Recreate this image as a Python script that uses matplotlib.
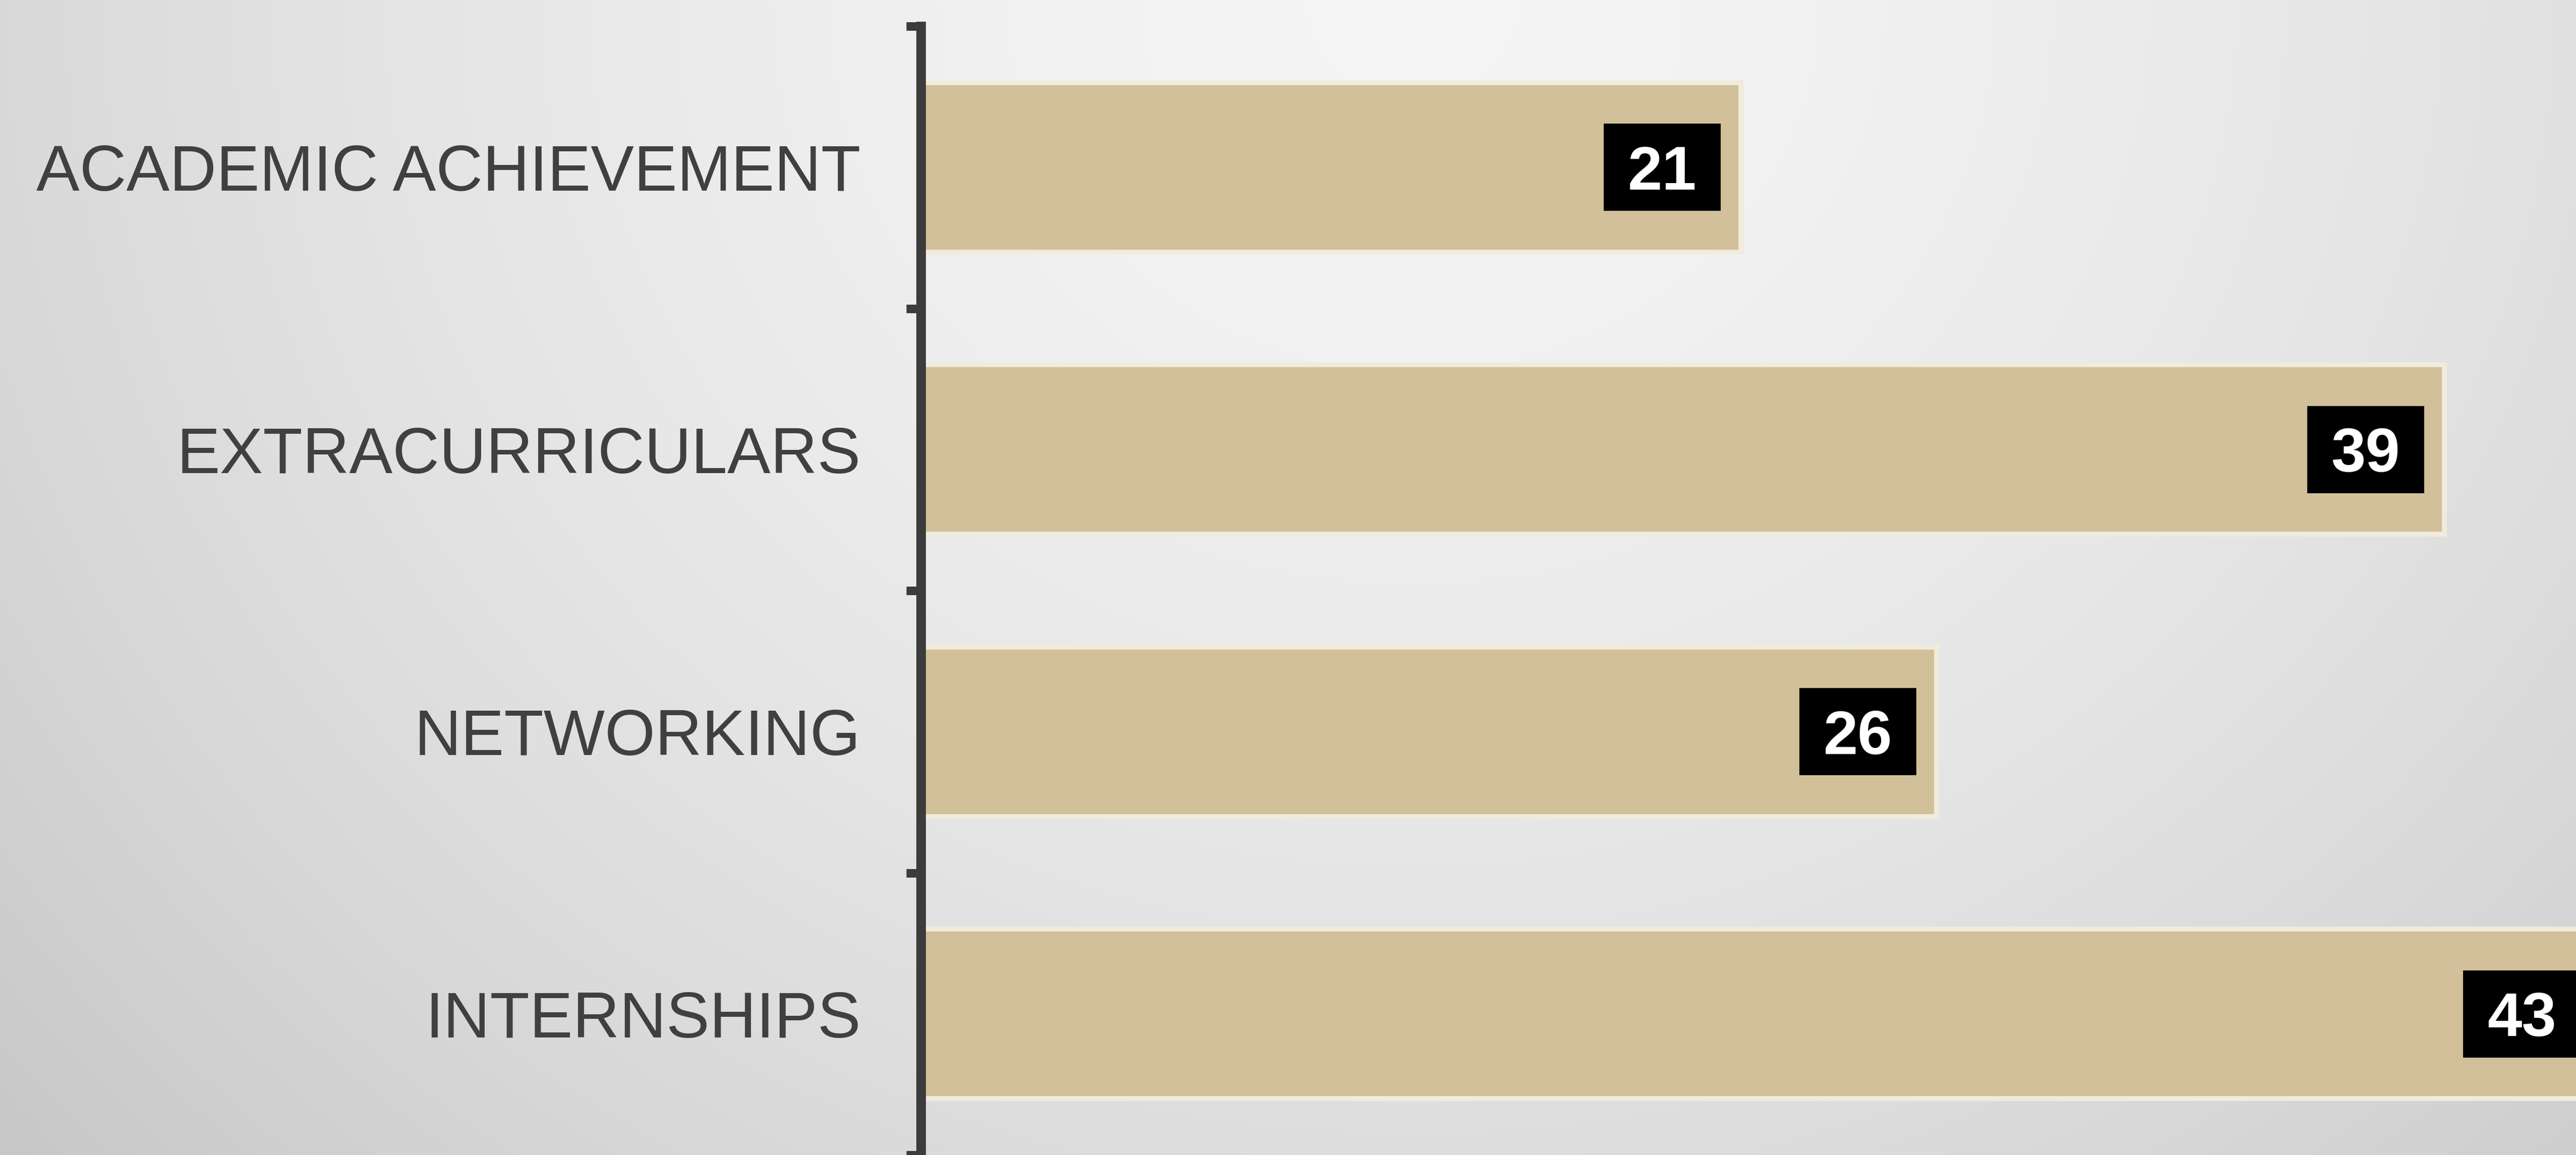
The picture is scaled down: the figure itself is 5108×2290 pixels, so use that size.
import numpy as np
import matplotlib
matplotlib.use("Agg")
import matplotlib.pyplot as plt

# Survey data
categories = ["ACADEMIC ACHIEVEMENT", "EXTRACURRICULARS", "NETWORKING", "INTERNSHIPS"]
values = [21, 39, 26, 43]

plt.rcParams["font.family"] = ["Liberation Sans", "DejaVu Sans"]

W, H, DPI = 5108, 2290, 100
fig = plt.figure(figsize=(W / DPI, H / DPI), dpi=DPI)

# Soft radial grey backdrop, brightest near the top centre
bg = fig.add_axes([0, 0, 1, 1], zorder=-10)
xx, yy = np.meshgrid(np.arange(0, W, 4), np.arange(0, H, 4))
d = np.hypot((xx - 2800) / 1.1, yy) / 1000.0
lum = (246 - 4.86 * d - 2.59 * d ** 2) / 255.0
rgb = np.dstack([lum, lum, lum])
bg.imshow(np.clip(rgb, 0, 1), extent=[0, 1, 0, 1], aspect="auto",
          interpolation="bilinear", origin="upper")
bg.axis("off")

# Main bar axes
left = 1826 / W
top = 1 - 52 / H
ax = fig.add_axes([left, 0, 1 - left, top])
ax.patch.set_alpha(0)

px_per_unit_x = 77.45
px_per_unit_y = 561.5
xmax = (W - 1826) / px_per_unit_x
ymax = -0.5 + (H - 52) / px_per_unit_y
ax.set_xlim(0, xmax)
ax.set_ylim(ymax, -0.5)

ypos = np.arange(len(categories))
ax.barh(ypos, values, height=0.6, color="#D2C09A", edgecolor="#F1EBDC",
        linewidth=7, zorder=2)

# Black value tags sitting inside the end of each bar
box_w = 232 / px_per_unit_x
box_gap = 40 / px_per_unit_x
box_h = 174 / px_per_unit_y
vals = np.array(values, dtype=float)
ax.barh(ypos, np.full(len(vals), box_w), left=vals - box_gap - box_w,
        height=box_h, color="black", linewidth=0, zorder=3)
cap_half = (88 / px_per_unit_y) / 2
for yi, v in zip(ypos, vals):
    ax.text(v - box_gap - box_w / 2, yi + cap_half, f"{int(v)}",
            ha="center", va="baseline", color="white", fontsize=88.5,
            fontweight="bold", zorder=4)

# Axis styling: single dark left spine with boundary ticks
for s in ("top", "right", "bottom"):
    ax.spines[s].set_visible(False)
ax.spines["left"].set_color("#3C3C3C")
ax.spines["left"].set_linewidth(13.7)
ax.spines["left"].set_zorder(5)

ax.set_yticks(np.arange(-0.5, len(categories) + 0.5, 1.0))
ax.set_yticklabels([])
ax.tick_params(axis="y", which="major", length=20.9, width=12.2,
               color="#3C3C3C", direction="out")
ax.set_yticks(ypos, minor=True)
ax.set_yticklabels(categories, minor=True)
ax.tick_params(axis="y", which="minor", length=0, pad=85.7,
               labelsize=92.5, labelcolor="#404040")
ax.set_xticks([])

fig.savefig("out.png", dpi=DPI)
